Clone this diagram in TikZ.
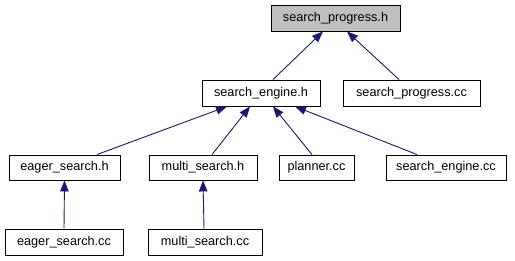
\documentclass[tikz,border=0pt]{standalone}
\usepackage{fontspec}
\setmainfont{Liberation Sans}
\usetikzlibrary{arrows.meta}
\definecolor{edgeblue}{HTML}{191970}
\definecolor{hlgray}{HTML}{BFBFBF}
\tikzset{
  file/.style={draw=black, line width=0.9pt, fill=white, inner sep=0pt,
    font=\fontsize{12.7}{14}\selectfont, text height=9.5pt, text depth=2.6pt},
  current/.style={file, fill=hlgray},
  dep/.style={draw=edgeblue, line width=0.9pt, -{Triangle[length=11pt,width=8.5pt]}}
}
\begin{document}
\begin{tikzpicture}[x=1pt,y=-1pt]
\useasboundingbox (0,0) rectangle (515,261);
% header nodes
\node[current, minimum width=129pt, minimum height=26pt] (sph) at (335.5,18) {search\_progress.h};
\node[file, minimum width=118pt, minimum height=26pt] (seh) at (261,93) {search\_engine.h};
\node[file, minimum width=137pt, minimum height=26pt] (spcc) at (411.5,93) {search\_progress.cc};
% files including search_engine.h
\node[file, minimum width=111pt, minimum height=25pt] (egh) at (64.5,167.5) {eager\_search.h};
\node[file, minimum width=108pt, minimum height=25pt] (msh) at (203,167.5) {multi\_search.h};
\node[file, minimum width=75pt, minimum height=25pt] (plcc) at (316.5,167.5) {planner.cc};
\node[file, minimum width=120pt, minimum height=25pt] (secc) at (446,167.5) {search\_engine.cc};
% implementation files
\node[file, minimum width=118pt, minimum height=26pt] (egcc) at (64,242) {eager\_search.cc};
\node[file, minimum width=114pt, minimum height=26pt] (mscc) at (205,242) {multi\_search.cc};
% include edges
\draw[dep] ([xshift=12pt]seh.north) -- ([xshift=-12.5pt]sph.south);
\draw[dep] ([xshift=-12.5pt]spcc.north) -- ([xshift=11.5pt]sph.south);
\draw[dep] ([xshift=32.5pt]egh.north) -- ([xshift=-34pt]seh.south);
\draw[dep] ([xshift=9pt]msh.north) -- ([xshift=-11pt]seh.south);
\draw[dep] ([xshift=-4.5pt]plcc.north) -- ([xshift=12pt]seh.south);
\draw[dep] ([xshift=-29pt]secc.north) -- ([xshift=34pt]seh.south);
\draw[dep] (egcc.north) -- (egh.south);
\draw[dep] ([xshift=-1pt]mscc.north) -- (msh.south);
\end{tikzpicture}
\end{document}
